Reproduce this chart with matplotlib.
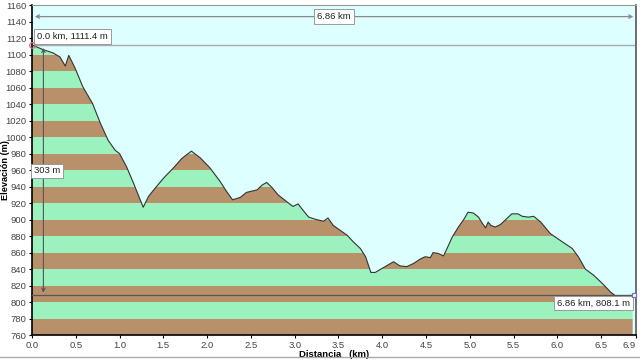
import matplotlib
matplotlib.use("Agg")
import matplotlib.pyplot as plt
import numpy as np
from matplotlib.patches import Rectangle

plt.rcParams["font.family"] = ["Liberation Sans", "DejaVu Sans"]

distance_km = [0.0, 0.06, 0.125, 0.24, 0.32, 0.38, 0.42, 0.49, 0.58, 0.69, 0.78, 0.87, 0.95, 1.0,
               1.08, 1.16, 1.27, 1.33, 1.39, 1.5, 1.61, 1.71, 1.82, 1.92, 2.03, 2.15, 2.21, 2.29,
               2.38, 2.45, 2.57, 2.63, 2.68, 2.74, 2.81, 2.93, 2.98, 3.04, 3.09, 3.16, 3.25, 3.33,
               3.38, 3.44, 3.52, 3.6, 3.67, 3.75, 3.81, 3.87, 3.92, 4.0, 4.13, 4.2, 4.28, 4.36,
               4.43, 4.49, 4.55, 4.58, 4.64, 4.7, 4.74, 4.8, 4.87, 4.93, 4.98, 5.04, 5.1, 5.14,
               5.18, 5.21, 5.24, 5.29, 5.35, 5.43, 5.48, 5.55, 5.6, 5.67, 5.73, 5.81, 5.92, 6.03,
               6.17, 6.24, 6.32, 6.41, 6.51, 6.61, 6.66, 6.86]
elevation_m = [1111.4, 1109, 1106, 1102, 1097, 1086, 1099, 1084, 1061, 1041, 1017, 996, 984, 980,
               964, 944, 915, 928, 936, 950, 962, 974, 983, 975, 963, 946, 936, 924,
               927, 933, 936, 942, 945, 939, 930, 920, 916, 919, 912, 903, 900, 898,
               902, 893, 887, 881, 873, 865, 855, 836, 836, 841, 849, 844, 843, 847,
               852, 855, 854, 860, 859, 856, 865, 879, 891, 900, 909, 908, 903, 896,
               890, 897, 893, 891, 894, 902, 907, 907, 904, 903, 904, 897, 883, 875,
               865, 855, 840, 833, 823, 812, 808, 808.1]

x_ticks = [0.0, 0.5, 1.0, 1.5, 2.0, 2.5, 3.0, 3.5, 4.0, 4.5, 5.0, 5.5, 6.0, 6.5, 6.9]
x_tick_labels = ["0.0", "0.5", "1.0", "1.5", "2.0", "2.5", "3.0", "3.5", "4.0", "4.5",
                 "5.0", "5.5", "6.0", "6.5", "6.9"]
y_ticks = list(range(760, 1161, 20))

start_label = "0.0 km, 1111.4 m"
end_label = "6.86 km, 808.1 m"
dist_label = "6.86 km"
climb_label = "303 m"

SKY = "#DDFFFF"
BROWN = "#B8916A"
GREEN = "#9CF2BE"

fig = plt.figure(figsize=(6.4, 3.6), dpi=100)
fig.patch.set_facecolor("white")
ax = fig.add_axes([0.05, 0.069, 0.944, 0.917])
ax.set_facecolor(SKY)
ax.set_xlim(0, 6.9)
ax.set_ylim(760, 1160)

x = np.array(distance_km)
y = np.array(elevation_m)

profile = ax.fill_between(x, 760, y, facecolor="none", edgecolor="none")
clip_path = profile.get_paths()[0]
for i, lo in enumerate(range(760, 1160, 20)):
    band = Rectangle((0, lo), 6.9, 20, facecolor=BROWN if i % 2 == 0 else GREEN,
                     edgecolor="none", zorder=1)
    ax.add_patch(band)
    band.set_clip_path(clip_path, ax.transData)
ax.plot(x, y, color="#333333", lw=0.8, zorder=3)

# annotation lines
ax.axhline(elevation_m[0], color="#AAAAAA", lw=1.0, zorder=2)
ax.axhline(elevation_m[-1], color="#555555", lw=0.9, zorder=4)
ax.annotate("", xy=(0.0, 1146), xytext=(6.9, 1146),
            arrowprops=dict(arrowstyle="<->", color="#888888", lw=0.9, mutation_scale=6), zorder=4)
ax.annotate("", xy=(0.13, elevation_m[-1]), xytext=(0.13, elevation_m[0]),
            arrowprops=dict(arrowstyle="<->", color="#555555", lw=0.8, mutation_scale=6), zorder=4)

box = dict(boxstyle="square,pad=0.3", facecolor="white", edgecolor="#999999", lw=0.7)
ax.text(3.45, 1146, dist_label, fontsize=6.8, ha="center", va="center", bbox=box, color="#222222", zorder=5)
ax.text(0.06, 1122, start_label, fontsize=6.8, ha="left", va="center", bbox=box, color="#222222", zorder=5)
ax.text(0.02, 959, climb_label, fontsize=6.8, ha="left", va="center", bbox=box, color="#222222", zorder=5)
ax.text(6.83, 799, end_label, fontsize=6.8, ha="right", va="center", bbox=box, color="#222222", zorder=5)

ax.plot([0], [elevation_m[0]], marker="o", ms=4, mfc="none", mec="#D07080", mew=0.9, zorder=6, clip_on=False)
ax.plot([6.88], [elevation_m[-1]], marker="s", ms=3.5, mfc="white", mec="#7070C0", mew=0.9, zorder=6, clip_on=False)

ax.set_xticks(x_ticks)
ax.set_xticklabels(x_tick_labels)
ax.get_xticklabels()[-1].set_horizontalalignment("right")
ax.set_yticks(y_ticks)
ax.tick_params(labelsize=6.8, labelcolor="#444444", length=2.5, width=0.8, pad=1.5)
ax.set_xlabel("Distancia   (km)", fontsize=6.8, fontweight="bold", labelpad=0)
ax.set_ylabel("Elevación (m)", fontsize=6.6, fontweight="bold")
ax.yaxis.set_label_coords(-0.037, 0.5)

for s in ["left", "bottom"]:
    ax.spines[s].set_color("black")
    ax.spines[s].set_linewidth(1.2)
ax.spines["top"].set_color("#999999")
ax.spines["right"].set_color("#555555")
ax.spines["right"].set_linewidth(1.2)

fig.add_artist(plt.Line2D([0, 1], [0.008, 0.008], color="#AAAAAA", lw=1.0, transform=fig.transFigure))

fig.savefig("out.png", dpi=100)
